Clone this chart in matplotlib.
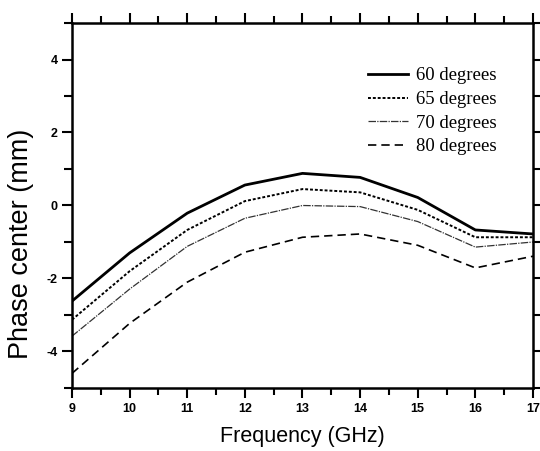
import matplotlib
matplotlib.use("Agg")
import matplotlib.pyplot as plt
from matplotlib.ticker import MultipleLocator

plt.rcParams['axes.unicode_minus'] = False

freq = [9, 10, 11, 12, 13, 14, 15, 16, 17]
pc_60 = [-2.62, -1.30, -0.21, 0.56, 0.88, 0.77, 0.22, -0.67, -0.78]
pc_65 = [-3.13, -1.80, -0.67, 0.12, 0.45, 0.36, -0.12, -0.87, -0.87]
pc_70 = [-3.58, -2.29, -1.12, -0.35, 0.00, -0.03, -0.44, -1.14, -1.00]
pc_80 = [-4.60, -3.23, -2.10, -1.28, -0.87, -0.78, -1.09, -1.71, -1.39]
labels = ["60 degrees", "65 degrees", "70 degrees", "80 degrees"]

fig = plt.figure(figsize=(5.4, 4.51), dpi=100)
ax = fig.add_axes([0.1333, 0.1397, 0.8537, 0.8093])

ax.plot(freq, pc_60, color='black', lw=2.0, ls='-', label=labels[0])
ax.plot(freq, pc_65, color='black', lw=1.4, ls=(0, (1.5, 1.0)), label=labels[1])
ax.plot(freq, pc_70, color='#333333', lw=0.9, ls=(0, (6, 1, 1, 1)), label=labels[2])
ax.plot(freq, pc_80, color='black', lw=1.2, ls=(0, (5, 3)), label=labels[3])

ax.set_xlim(9, 17)
ax.set_ylim(-5, 5)
ax.xaxis.set_major_locator(MultipleLocator(1))
ax.xaxis.set_minor_locator(MultipleLocator(0.5))
ax.yaxis.set_major_locator(MultipleLocator(2))
ax.yaxis.set_minor_locator(MultipleLocator(1))
ax.set_yticks([-4, -2, 0, 2, 4])

ax.tick_params(which='both', direction='out', top=True, right=True, width=1.5)
ax.tick_params(which='major', length=7)
ax.tick_params(which='minor', length=5)
ax.tick_params(axis='y', which='minor', length=6)
for lab in ax.get_xticklabels() + ax.get_yticklabels():
    lab.set_fontfamily('Liberation Sans')
    lab.set_fontweight('bold')
    lab.set_fontsize(9)

for s in ax.spines.values():
    s.set_linewidth(1.8)

ax.set_xlabel("Frequency (GHz)", fontsize=15.5, family='Liberation Sans', labelpad=8)
ax.set_ylabel("Phase center (mm)", fontsize=19.5, family='Liberation Sans')
ax.yaxis.set_label_coords(-0.083, 0.396)

leg = ax.legend(loc='upper right', bbox_to_anchor=(0.957, 0.925), frameon=False,
                prop={'family': 'Liberation Serif', 'size': 13.5},
                handlelength=2.1, handletextpad=0.43, labelspacing=0.35)

fig.savefig("out.png", dpi=100)
